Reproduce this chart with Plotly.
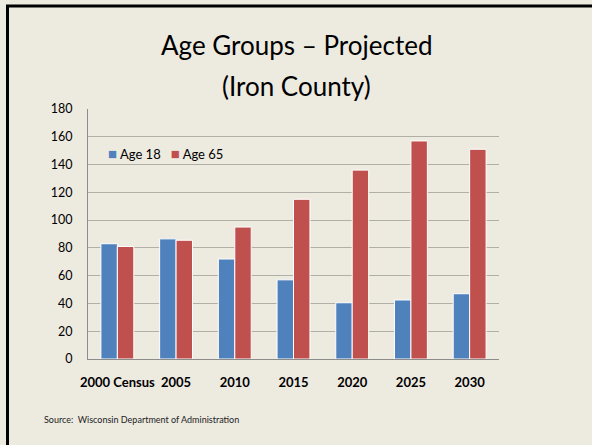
import plotly.graph_objects as go

# data
categories = ['2000 Census', '2005', '2010', '2015', '2020', '2025', '2030']
age_18 = [83, 86.5, 72, 57, 40.5, 42.5, 47]
age_65 = [81, 85.5, 95, 115, 136, 157, 151]
y_ticks = [0, 20, 40, 60, 80, 100, 120, 140, 160, 180]

W, H = 592, 445
L, R, T, B = 88, 93, 109, 86
BG = '#EDEAE0'
BLUE, RED = '#4F81BD', '#C0504D'
FONT = 'Lato, Liberation Sans, sans-serif'


def px_x(x):
    return (x - L) / (W - L - R)


def px_y(y):
    return (H - B - y) / (H - T - B)


fig = go.Figure()
fig.add_trace(go.Bar(
    x=categories, y=age_18, name='Age 18',
    marker=dict(color=BLUE, line=dict(color='white', width=1)),
))
fig.add_trace(go.Bar(
    x=categories, y=age_65, name='Age 65',
    marker=dict(color=RED, line=dict(color='white', width=1)),
))

fig.update_layout(
    width=W, height=H,
    margin=dict(l=L, r=R, t=T, b=B, pad=0),
    paper_bgcolor=BG, plot_bgcolor=BG,
    barmode='group', bargap=0.44, bargroupgap=0,
    font=dict(family=FONT, size=12, color='black'),
    showlegend=False,
    xaxis=dict(
        showgrid=False, showline=True, linecolor='#8C8C8C', linewidth=1,
        ticks='', tickfont=dict(size=13, family=FONT, weight='bold'),
        ticklabelstandoff=11,
    ),
    yaxis=dict(
        range=[0, 180], tickvals=y_ticks,
        showgrid=True, gridcolor='#B0B0A8', gridwidth=1,
        showline=True, linecolor='#8C8C8C', linewidth=1,
        zeroline=False, ticks='', ticklabelstandoff=12,
        tickfont=dict(size=12.5),
    ),
)

# compact legend, as on the slide
sq = '<span style="color:{};font-size:15px">■</span>'
fig.add_annotation(
    text=(f'{sq.format(BLUE)} {fig.data[0].name}&nbsp;&nbsp;&nbsp;'
          f'{sq.format(RED)} {fig.data[1].name}'),
    xref='paper', yref='paper', x=px_x(106), y=px_y(153),
    xanchor='left', yanchor='middle', showarrow=False,
    font=dict(size=13, family=FONT),
)

fig.add_annotation(
    text='Age Groups – Projected', xref='paper', yref='paper',
    x=0.5 * (px_x(0) + px_x(W)), y=px_y(45), xanchor='center', yanchor='middle',
    showarrow=False, font=dict(size=26, family=FONT),
)
fig.add_annotation(
    text='(Iron County)', xref='paper', yref='paper',
    x=0.5 * (px_x(0) + px_x(W)), y=px_y(86), xanchor='center', yanchor='middle',
    showarrow=False, font=dict(size=26, family=FONT),
)
fig.add_annotation(
    text='Source:  Wisconsin Department of Administration',
    xref='paper', yref='paper', x=px_x(42), y=px_y(419),
    xanchor='left', yanchor='middle', showarrow=False,
    font=dict(size=9, family=FONT, color='#222222'),
)

# slide frame: only the top and left edges fall inside the window
fig.add_shape(type='line', xref='paper', yref='paper',
              x0=px_x(6), x1=px_x(W), y0=px_y(6), y1=px_y(6),
              line=dict(color='black', width=3), layer='above')
fig.add_shape(type='line', xref='paper', yref='paper',
              x0=px_x(7.5), x1=px_x(7.5), y0=px_y(5), y1=px_y(H),
              line=dict(color='black', width=3), layer='above')

fig.write_html('out.html', config={'displayModeBar': False},
               post_script="document.body.style.margin='0';")
